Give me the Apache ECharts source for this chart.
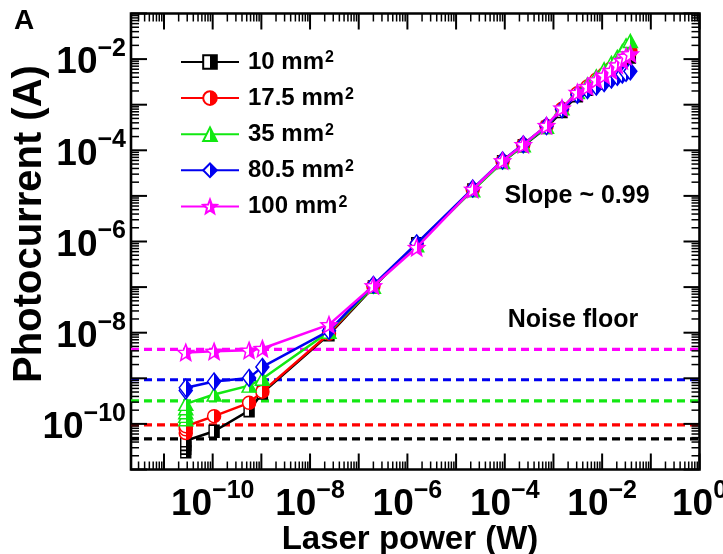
<!DOCTYPE html>
<html>
<head>
<meta charset="utf-8">
<script src="https://cdn.jsdelivr.net/npm/echarts@6/dist/echarts.min.js"></script>
<style>
  html, body { margin: 0; padding: 0; background: #fff; }
  #chart { width: 723px; height: 554px; }
</style>
</head>
<body>
<div id="chart"></div>
<script>
const FONT = '"Liberation Sans", Arial, Helvetica, sans-serif';

// Laser power sweep (W), shared by every device
const power = [2.8e-11, 1.07e-10, 5.6e-10, 1.05e-9, 2.45e-8, 2.0e-7, 1.55e-6, 2.2e-5, 9.0e-5, 2.4e-4,
               7.2e-4, 1.5e-3, 3.1e-3, 5.0e-3, 7.6e-3, 1.1e-2, 1.55e-2, 2.05e-2, 2.6e-2, 3.1e-2, 3.8e-2];

// Device areas
const areaNames = ['10 mm²', '17.5 mm²', '35 mm²', '80.5 mm²', '100 mm²'];

// Repeated readings taken at the lowest power before the sweep (A)
const lowRepeats10 = [2.45e-11, 2.95e-11, 3.55e-11];
const lowRepeats17 = [6.3e-11, 7.6e-11];
const lowRepeats35 = [1.26e-10, 1.5e-10, 1.8e-10, 2.2e-10];
const lowRepeats80 = [5.4e-10];
const lowRepeats100 = [];

// Photocurrent along the sweep (A)
const current10 = [4.27e-11, 6.9e-11, 1.95e-10, 4.8e-10, 9.1e-9, 1.0e-7, 8.9e-7, 1.35e-5, 5.6e-5, 1.26e-4,
                   3.16e-4, 7.1e-4, 1.58e-3, 2.19e-3, 3.0e-3, 3.98e-3, 5.25e-3, 6.76e-3, 8.3e-3, 1.0e-2, 1.12e-2];
const current17 = [8.9e-11, 1.48e-10, 2.9e-10, 5.1e-10, 9.5e-9, 1.05e-7, 8.3e-7, 1.38e-5, 5.75e-5, 1.32e-4,
                   3.4e-4, 8.1e-4, 1.78e-3, 2.5e-3, 3.55e-3, 4.7e-3, 6.3e-3, 8.3e-3, 1.05e-2, 1.26e-2, 1.48e-2];
const current35 = [2.75e-10, 4.4e-10, 6.9e-10, 9.8e-10, 1.05e-8, 1.02e-7, 8.3e-7, 1.32e-5, 5.5e-5, 1.29e-4,
                   3.3e-4, 8.3e-4, 1.9e-3, 2.8e-3, 4.2e-3, 6.0e-3, 8.3e-3, 1.12e-2, 1.5e-2, 2.0e-2, 2.5e-2];
const current80 = [6.2e-10, 8.5e-10, 1.02e-9, 1.78e-9, 1.1e-8, 1.12e-7, 9.1e-7, 1.45e-5, 6.0e-5, 1.35e-4,
                   3.4e-4, 7.9e-4, 1.66e-3, 2.1e-3, 2.5e-3, 3.0e-3, 3.55e-3, 4.1e-3, 4.6e-3, 5.0e-3, 5.4e-3];
const current100 = [3.7e-9, 3.9e-9, 4.1e-9, 4.5e-9, 1.5e-8, 1.07e-7, 7.4e-7, 1.4e-5, 5.9e-5, 1.33e-4,
                    3.5e-4, 8.5e-4, 1.86e-3, 2.5e-3, 3.5e-3, 4.4e-3, 5.6e-3, 7.4e-3, 9.3e-3, 1.15e-2, 1.3e-2];

// Dark-current noise floor of each device (A)
const noiseFloor = [4.7e-11, 9.5e-11, 3.2e-10, 9.3e-10, 4.3e-9];

// Axis ranges and labelled decades
const xRange = [2.1e-12, 1];
const yRange = [1e-11, 1e-1];
const xLabelExp = [-10, -8, -6, -4, -2, 0];
const yLabelExp = [-10, -8, -6, -4, -2];

const colors = ['#000000', '#ff0000', '#12e812', '#0000f0', '#ff00ff'];
const lowRepeats = [lowRepeats10, lowRepeats17, lowRepeats35, lowRepeats80, lowRepeats100];
const currents = [current10, current17, current35, current80, current100];

const STAR = 'path://M10 0 L12.6 6.5 L19.5 6.9 L14.2 11.4 L15.9 18.1 L10 14.4 L4.1 18.1 L5.8 11.4 L0.5 6.9 L7.4 6.5 Z';
const symbols = ['rect', 'circle', 'triangle', 'diamond', STAR];
const symbolSizes = [[10, 12], 13, [14, 13], [13, 17], 16];

function halfFill(c) {
  return {
    type: 'linear', x: 0, y: 0, x2: 1, y2: 0,
    colorStops: [
      { offset: 0, color: '#ffffff' }, { offset: 0.5, color: '#ffffff' },
      { offset: 0.5, color: c }, { offset: 1, color: c }
    ]
  };
}

// Log-axis tick positions: decades are major, 2..9 are minor
function logTicks(lo, hi) {
  const out = [];
  for (let n = Math.floor(Math.log10(lo)); n <= Math.ceil(Math.log10(hi)); n++) {
    for (let k = 1; k <= 9; k++) {
      const v = k * Math.pow(10, n);
      if (v >= lo * 0.9999 && v <= hi * 1.0001) out.push({ v: v, exp: n, major: k === 1 });
    }
  }
  return out;
}
const xTicks = logTicks(xRange[0], xRange[1]);
const yTicks = logTicks(yRange[0], yRange[1]);

const tickRich = {
  b: { fontSize: 37, fontWeight: 'bold', fontFamily: FONT, lineHeight: 45, verticalAlign: 'bottom', fill: '#000' },
  s: { fontSize: 25, fontWeight: 'bold', fontFamily: FONT, lineHeight: 25, verticalAlign: 'top', fill: '#000' }
};
function powLabel(e) {
  return '{b|10}{s|' + (e < 0 ? '\u2212' : '') + Math.abs(e) + '}';
}

const MAJOR_LEN = 16, MINOR_LEN = 8;

// Dashed noise-floor levels across the full power range
const series = noiseFloor.map(function (f, i) {
  return {
    name: 'floor ' + areaNames[i],
    type: 'line',
    data: [[xRange[0], f], [xRange[1], f]],
    symbol: 'none',
    silent: true,
    lineStyle: { color: colors[i], width: 3.2, type: [8, 5] },
    emphasis: { disabled: true },
    z: 2
  };
});

areaNames.forEach(function (name, i) {
  const data = lowRepeats[i].map(function (v) { return [power[0], v]; })
    .concat(power.map(function (p, j) { return [p, currents[i][j]]; }));
  series.push({
    name: name,
    type: 'line',
    data: data,
    symbol: symbols[i],
    symbolSize: symbolSizes[i],
    lineStyle: { color: colors[i], width: 2.5 },
    itemStyle: { color: halfFill(colors[i]), borderColor: colors[i], borderWidth: 1.5 },
    emphasis: { disabled: true },
    z: 3 + i
  });
});

// Inward ticks on all four sides plus the decade labels
series.push({
  type: 'custom',
  silent: true,
  z: 10,
  data: xTicks.map(function (t) { return [t.v, yRange[0]]; }),
  renderItem: function (params, api) {
    const t = xTicks[params.dataIndex];
    const bot = api.coord([t.v, yRange[0]]);
    const top = api.coord([t.v, yRange[1]]);
    const L = t.major ? MAJOR_LEN : MINOR_LEN;
    const lw = t.major ? 2 : 1.5;
    const children = [
      { type: 'line', shape: { x1: bot[0], y1: bot[1], x2: bot[0], y2: bot[1] - L }, style: { stroke: '#000', lineWidth: lw } },
      { type: 'line', shape: { x1: top[0], y1: top[1], x2: top[0], y2: top[1] + L }, style: { stroke: '#000', lineWidth: lw } }
    ];
    if (t.major && xLabelExp.indexOf(t.exp) >= 0) {
      children.push({ type: 'text', style: { text: powLabel(t.exp), x: bot[0], y: bot[1] + 9, align: 'center', verticalAlign: 'top', fill: '#000', rich: tickRich } });
    }
    return { type: 'group', children: children };
  }
});
series.push({
  type: 'custom',
  silent: true,
  z: 10,
  data: yTicks.map(function (t) { return [xRange[0], t.v]; }),
  renderItem: function (params, api) {
    const t = yTicks[params.dataIndex];
    const left = api.coord([xRange[0], t.v]);
    const right = api.coord([xRange[1], t.v]);
    const L = t.major ? MAJOR_LEN : MINOR_LEN;
    const lw = t.major ? 2 : 1.5;
    const children = [
      { type: 'line', shape: { x1: left[0], y1: left[1], x2: left[0] + L, y2: left[1] }, style: { stroke: '#000', lineWidth: lw } },
      { type: 'line', shape: { x1: right[0], y1: right[1], x2: right[0] - L, y2: right[1] }, style: { stroke: '#000', lineWidth: lw } }
    ];
    if (t.major && yLabelExp.indexOf(t.exp) >= 0) {
      children.push({ type: 'text', style: { text: powLabel(t.exp), x: left[0] - 5, y: left[1], align: 'right', verticalAlign: 'middle', fill: '#000', rich: tickRich } });
    }
    return { type: 'group', children: children };
  }
});

const chart = echarts.init(document.getElementById('chart'), null, { renderer: 'canvas' });
chart.setOption({
  animation: false,
  backgroundColor: '#ffffff',
  grid: { left: 131, right: 23.5, top: 13.5, bottom: 84.5, show: true, borderColor: '#000', borderWidth: 2.6, backgroundColor: 'transparent' },
  xAxis: {
    type: 'log', logBase: 10, min: xRange[0], max: xRange[1],
    axisLine: { show: false }, axisTick: { show: false }, axisLabel: { show: false },
    splitLine: { show: false }, minorTick: { show: false }
  },
  yAxis: {
    type: 'log', logBase: 10, min: yRange[0], max: yRange[1],
    axisLine: { show: false }, axisTick: { show: false }, axisLabel: { show: false },
    splitLine: { show: false }, minorTick: { show: false }
  },
  legend: {
    orient: 'vertical',
    left: 175, top: 45,
    itemWidth: 58, itemHeight: 17, itemGap: 8.1,
    selectedMode: false,
    data: areaNames,
    formatter: function (name) { return '{t|' + name.replace('²', '}{s|2}'); },
    textStyle: {
      fontSize: 24, fontWeight: 'bold', fontFamily: FONT, color: '#000', padding: [0, 0, 0, 4],
      rich: {
        t: { fontSize: 24, fontWeight: 'bold', fontFamily: FONT, color: '#000', lineHeight: 24, verticalAlign: 'bottom' },
        s: { fontSize: 16, fontWeight: 'bold', fontFamily: FONT, color: '#000', lineHeight: 16, padding: [0, 0, 12, 1], verticalAlign: 'top' }
      }
    }
  },
  graphic: [
    { type: 'text', x: 24, y: 21, style: { text: 'A', align: 'center', verticalAlign: 'middle', fontSize: 28, fontWeight: 'bold', fontFamily: FONT, fill: '#000' } },
    { type: 'text', x: 410, y: 540, style: { text: 'Laser power (W)', align: 'center', verticalAlign: 'middle', fontSize: 33, fontWeight: 'bold', fontFamily: FONT, fill: '#000' } },
    { type: 'text', x: 30, y: 224, rotation: Math.PI / 2, style: { text: 'Photocurrent (A)', align: 'center', verticalAlign: 'middle', fontSize: 40, fontWeight: 'bold', fontFamily: FONT, fill: '#000' } },
    { type: 'text', x: 577, y: 196, style: { text: 'Slope ~ 0.99', align: 'center', verticalAlign: 'middle', fontSize: 25, fontWeight: 'bold', fontFamily: FONT, fill: '#000' } },
    { type: 'text', x: 573, y: 320, style: { text: 'Noise floor', align: 'center', verticalAlign: 'middle', fontSize: 25, fontWeight: 'bold', fontFamily: FONT, fill: '#000' } }
  ],
  series: series
});
</script>
</body>
</html>
